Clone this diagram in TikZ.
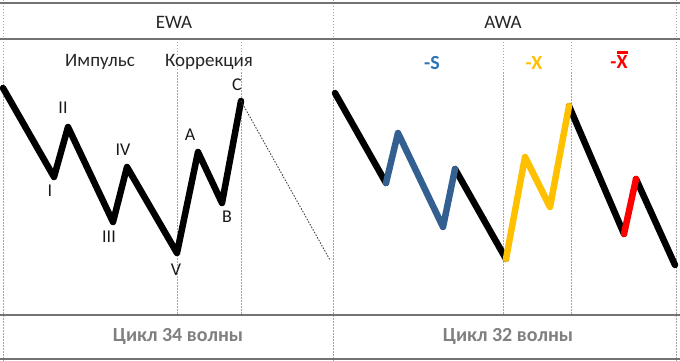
\documentclass[tikz,border=0pt]{standalone}
\usepackage{fontspec}
\setmainfont{Carlito}
\usetikzlibrary{positioning}

\definecolor{waveblue}{RGB}{51,95,145}
\definecolor{textblue}{RGB}{46,117,182}
\definecolor{waveyellow}{RGB}{255,192,0}
\definecolor{wavered}{RGB}{255,0,0}

\newcommand{\barX}{\vbox{\hrule height 2.8pt\kern2.4pt\hbox{X}}}

\begin{document}
\begin{tikzpicture}[
        x=1pt, y=-1pt,
        wave/.style={line width=6.5pt, line cap=round, line join=round},
        grid line/.style={draw=black!35, dash pattern=on 1.5pt off 1.5pt, line width=0.8pt},
        rule line/.style={draw=black!55, line width=1.3pt},
        head label/.style={font=\fontsize{19}{19}\selectfont, text=black!85},
        point label/.style={font=\fontsize{18}{18}\selectfont, text=black!90},
        part label/.style={font=\bfseries\fontsize{20}{20}\selectfont},
        foot label/.style={font=\bfseries\fontsize{20}{20}\selectfont, text=black!50},
    ]
    \useasboundingbox (0,0) rectangle (680,361);

    % Dashed column lines
    \foreach \x in {3, 333, 676}
        \draw[grid line] (\x,0) -- (\x,361);
    \foreach \x in {177, 241, 503, 571}
        \draw[grid line] (\x,39) -- (\x,315);

    % Frame rules
    \draw[rule line, line width=2pt] (0,3) -- (680,3);
    \foreach \y in {39, 315, 359}
        \draw[rule line] (0,\y) -- (680,\y);

    % Headers and footers
    \node[head label] (h-ewa) at (174,22) {EWA};
    \node[head label] (h-awa) at (503,22) {AWA};
    \node[foot label] (f-ewa) at (178,336) {Цикл 34 волны};
    \node[foot label] (f-awa) at (508,336) {Цикл 32 волны};

    % EWA wave points
    \foreach \name/\x/\y in {0/3/88, I/54/177, II/68/127, III/113/222, IV/127/167,
                             V/177/253, A/198/152, B/222/203, C/241/101}
        \coordinate (E-\name) at (\x,\y);
    \coordinate (E-end) at (330,260);

    \draw[wave] (E-0) -- (E-I) -- (E-II) -- (E-III) -- (E-IV) -- (E-V)
                -- (E-A) -- (E-B) -- (E-C);
    \draw[black!75, dash pattern=on 1.5pt off 1.5pt, line width=0.9pt] (E-C) -- (E-end);

    % EWA labels
    \foreach \name/\x/\y in {I/50/191, II/63/108, III/109/237, IV/123/150,
                             V/176/270, A/190/135, B/227/217, C/237/85}
        \node[point label] (L-\name) at (\x,\y) {\name};
    \node[head label] (imp) at (100,62) {Импульс};
    \node[head label] (corr) at (209,62) {Коррекция};

    % AWA labels
    \node[part label, text=textblue] (s-lab) at (432,63) {-S};
    \node[part label, text=waveyellow] (x-lab) at (534,63) {-X};
    \node[part label, text=wavered, anchor=base] (xbar-lab) at (619,69) {-\barX};

    % AWA wave points
    \foreach \i/\x/\y in {0/335/93, 1/386/183, 2/398/133, 3/443/227, 4/455/169,
                          5/506/259, 6/525/157, 7/550/207, 8/569/106,
                          9/624/234, 10/636/179, 11/675/265}
        \coordinate (A-\i) at (\x,\y);

    \draw[wave] (A-0) -- (A-1);
    \draw[wave] (A-4) -- (A-5);
    \draw[wave] (A-8) -- (A-9);
    \draw[wave] (A-10) -- (A-11);
    \draw[wave, waveblue] (A-1) -- (A-2) -- (A-3) -- (A-4);
    \draw[wave, waveyellow] (A-5) -- (A-6) -- (A-7) -- (A-8);
    \draw[wave, wavered] (A-9) -- (A-10);
\end{tikzpicture}
\end{document}
